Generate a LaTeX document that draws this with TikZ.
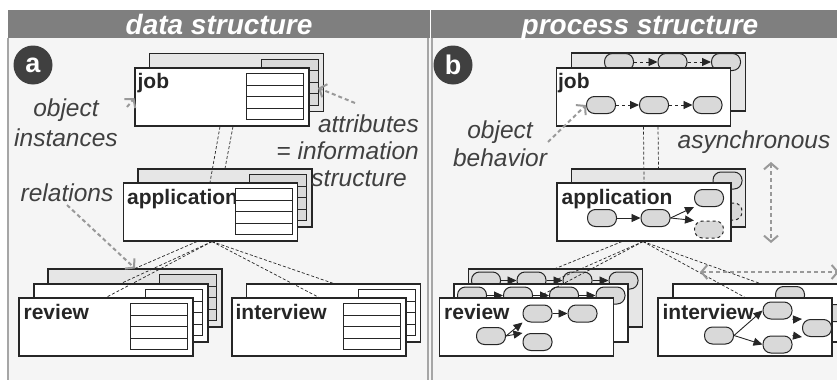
\documentclass[tikz,border=0pt]{standalone}
\usepackage{fontspec}
\setmainfont{Liberation Sans}
\usetikzlibrary{arrows.meta, positioning, calc}
\definecolor{HeadGray}{HTML}{7F7F7F}
\definecolor{PanelGray}{HTML}{F5F5F5}
\definecolor{EdgeGray}{HTML}{A6A6A6}
\definecolor{LayerGray}{HTML}{E6E6E6}
\definecolor{PillGray}{HTML}{D9D9D9}
\definecolor{NoteGray}{HTML}{999999}
\definecolor{Ink}{HTML}{262626}
\definecolor{NoteInk}{HTML}{404040}
\tikzset{
  header/.style={rectangle, fill=HeadGray, text=white, inner sep=0pt,
                 minimum height=28pt, text height=24pt, text depth=4pt,
                 font=\fontsize{28}{30}\selectfont\bfseries\itshape},
  panelmark/.style={circle, fill=NoteInk, text=white, inner sep=0pt,
                    minimum size=39pt, font=\fontsize{27}{27}\selectfont\bfseries},
  objbox/.style={rectangle, draw=Ink, line width=1.1pt, inner sep=0pt,
                 minimum width=174pt, minimum height=58pt},
  frontbox/.style={objbox, fill=white},
  backbox/.style={objbox, fill=LayerGray},
  boxlabel/.style={anchor=base west, inner sep=0pt, text=Ink,
                   font=\fontsize{21}{24}\selectfont\bfseries},
  pill/.style={rectangle, rounded corners=8pt, draw=Ink, line width=1pt,
               fill=PillGray, minimum width=29pt, minimum height=17pt, inner sep=0pt},
  optpill/.style={pill, dashed},
  flow/.style={draw=Ink, line width=0.9pt, -{Triangle[length=9pt,width=8pt]}},
  relation/.style={draw=Ink, line width=0.7pt, dash pattern=on 3pt off 2pt},
  note/.style={inner sep=0pt, text=NoteInk, align=center,
               font=\fontsize{24.5}{27}\selectfont\itshape},
  hint/.style={draw=NoteGray, line width=2pt, dash pattern=on 4pt off 3pt,
               -{Straight Barb[length=6pt,width=14pt]}},
  hintboth/.style={hint, {Straight Barb[length=6pt,width=14pt]}-{Straight Barb[length=6pt,width=14pt]}}
}
% attribute table in the upper right corner of a box
\newcommand{\attrtab}[2]{%
  \draw[fill=#2, draw=Ink, line width=0.9pt]
    ($(#1.north east)+(-63,6)$) rectangle ($(#1.north east)+(-6,52)$);
  \foreach \r in {1,2,3}
    \draw[Ink, line width=0.9pt] ($(#1.north east)+(-63,{6+11.5*\r})$) -- ++(57,0);
}

\begin{document}
\begin{tikzpicture}[x=1pt, y=-1pt]
    \useasboundingbox (0,0) rectangle (837,380);
    \clip (0,0) rectangle (837,380);

    % Panels
    \fill[PanelGray] (8,38) rectangle (849,380);
    \draw[EdgeGray, line width=1.2pt] (8,38) -- (8,380);
    \draw[EdgeGray, line width=1.2pt] (428,38) -- (428,380);
    \draw[EdgeGray, line width=1.2pt] (432,38) -- (432,380);
    \node[header, minimum width=422pt] (headData) at (219,24) {data structure};
    \node[header, minimum width=418pt] (headProc) at (640,24) {process structure};
    \node[panelmark] (markA) at (33,65) {a};
    \node[panelmark] (markB) at (453,65) {b};

    % ---- data structure ----
    \node[backbox] (djobB) at (236.5,82.5) {};
    \attrtab{djobB}{PillGray}
    \node[frontbox] (djobF) at (222,97) {};
    \node[boxlabel] (djobL) at ($(djobF.north west)+(3,21)$) {job};
    \attrtab{djobF}{white}

    \node[backbox] (dappB) at (225,198) {};
    \attrtab{dappB}{PillGray}
    \node[frontbox] (dappF) at (210.5,212) {};
    \node[boxlabel] (dappL) at ($(dappF.north west)+(4,22)$) {application};
    \attrtab{dappF}{white}

    \node[backbox] (drevB) at (135,298) {};
    \attrtab{drevB}{PillGray}
    \node[frontbox] (drevM) at (121,313) {};
    \attrtab{drevM}{white}
    \node[frontbox] (drevF) at (106,327) {};
    \node[boxlabel] (drevL) at ($(drevF.north west)+(5,22)$) {review};
    \attrtab{drevF}{white}

    \node[frontbox] (dintB) at (333.5,313) {};
    \attrtab{dintB}{white}
    \node[frontbox] (dintF) at (319,327) {};
    \node[boxlabel] (dintL) at ($(dintF.north west)+(4,22)$) {interview};
    \attrtab{dintF}{white}

    % Relations
    \draw[relation] ($(djobF.south)+(-2,0)$) -- ($(dappF.north)+(-0.5,0)$);
    \draw[relation] ($(djobF.south)+(11,0)$) -- (dappB.north);
    \draw[relation] ($(dappF.south)+(-13.5,0)$) -- (drevB.north);
    \foreach \t in {drevM, drevF, dintB, dintF}
        \draw[relation] ($(dappF.south)+(1.5,0)$) -- (\t.north);

    % Notes
    \node[note, font=\fontsize{24.5}{30}\selectfont\itshape] (instNote) at (66,123) {object\\instances};
    \node[note, align=right, anchor=east] (attrNote) at (419,151)
        {attributes\\= information\\structure\hspace*{12pt}};
    \node[note, anchor=base] (relNote) at (67,201) {relations};
    \coordinate (instTail) at (127,107);
    \coordinate (attrTail) at (355,103);
    \coordinate (relTail) at (67,205);
    \draw[hint] (instTail) -- ($(djobF.west)+(0,1)$);
    \draw[hint] (attrTail) -- ($(djobB.north east)+(-6,35)$);
    \draw[hint] (relTail) -- (drevB.north);

    % ---- process structure ----
    \node[backbox] (pjobB) at (658.5,82) {};
    \node[pill] (jb1) at (619,62) {};
    \node[pill] (jb2) at (672.5,62) {};
    \node[pill] (jb3) at (726,62) {};
    \draw[flow, dashed] (jb1) -- (jb2);
    \draw[flow, dashed] (jb2) -- (jb3);
    \node[frontbox] (pjobF) at (643.5,97) {};
    \node[boxlabel] (pjobL) at ($(pjobF.north west)+(2,21)$) {job};
    \node[pill] (jp1) at (601,105) {};
    \node[pill] (jp2) at (654,105) {};
    \node[pill] (jp3) at (707.5,105) {};
    \draw[flow, dashed] (jp1) -- (jp2);
    \draw[flow, dashed] (jp2) -- (jp3);

    \node[backbox] (pappB) at (658.5,198) {};
    \node[pill] (ab3) at (727.5,180.5) {};
    \node[optpill] (ab4) at (727.5,211.5) {};
    \node[frontbox] (pappF) at (644,212) {};
    \node[boxlabel] (pappL) at ($(pappF.north west)+(5,22)$) {application};
    \node[pill] (ap1) at (602,218) {};
    \node[pill] (ap2) at (655.5,218) {};
    \node[pill] (ap3) at (709,198) {};
    \node[optpill] (ap4) at (709,229.5) {};
    \draw[flow] (ap1) -- (ap2);
    \draw[flow] (ap2.east) -- (ap3.south west);
    \draw[flow] (ap2.east) -- (ap4.north west);

    \node[backbox] (prevB) at (555.5,298) {};
    \node[pill] (rb1) at (486,280.5) {};
    \node[pill] (rb2) at (531.5,280.5) {};
    \node[pill] (rb3) at (577.5,280.5) {};
    \node[pill] (rb4) at (623.5,280.5) {};
    \draw[flow] (rb1) -- (rb2);
    \draw[flow] (rb2) -- (rb3);
    \draw[flow] (rb3) -- (rb4);
    \node[frontbox] (prevM) at (541,313) {};
    \node[pill] (rm1) at (472,295.5) {};
    \node[pill] (rm2) at (518,295.5) {};
    \node[pill] (rm3) at (564,295.5) {};
    \node[pill] (rm4) at (610.5,295.5) {};
    \draw[flow] (rm1) -- (rm2);
    \draw[flow] (rm2) -- (rm3);
    \draw[flow] (rm3) -- (rm4);
    \node[frontbox] (prevF) at (526.5,327) {};
    \node[boxlabel] (prevL) at ($(prevF.north west)+(5,22)$) {review};
    \node[pill] (rp1) at (491,336) {};
    \node[pill] (rp2) at (537.5,313.5) {};
    \node[pill] (rp3) at (582.5,313.5) {};
    \node[pill] (rp4) at (537.5,342) {};
    \draw[flow] (rp1.east) -- (rp2.south west);
    \draw[flow] (rp1.east) -- (rp4.north west);
    \draw[flow] (rp2) -- (rp3);

    \node[frontbox] (pintB) at (760,313) {};
    \node[pill] (ib2) at (790,295) {};
    \node[pill] (ib4) at (831,313) {};
    \node[frontbox] (pintF) at (745,327) {};
    \node[boxlabel] (pintL) at ($(pintF.north west)+(5,22)$) {interview};
    \node[pill] (ip1) at (719,335.5) {};
    \node[pill] (ip2) at (777.5,310.5) {};
    \node[pill] (ip3) at (777.5,344.5) {};
    \node[pill] (ip4) at (817,328) {};
    \draw[flow] (ip1.east) -- (ip2.west);
    \draw[flow] (ip1.east) -- (ip3.west);
    \draw[flow] (ip2.south east) -- (ip4.north west);
    \draw[flow] (ip3.north east) -- (ip4.south west);

    % Relations
    \draw[relation] (pjobF.south) -- (pappF.north);
    \draw[relation] ($(pjobF.south)+(14.5,0)$) -- (pappB.north);
    \draw[relation] ($(pappF.south)+(-22,0)$) -- (prevB.north);
    \draw[relation] ($(pappF.south)+(-1,0)$) -- ($(rb2.east)!0.5!(rb3.west)$);
    \draw[relation] ($(pappF.south)+(-1,0)$) -- ($(rm2.east)!0.5!(rm3.west)$);
    \draw[relation] ($(pappF.south)+(-1,0)$) -- (pintB.north);
    \draw[relation] ($(pappF.south)+(-1,0)$) -- (pintF.north);

    % Notes
    \node[note, font=\fontsize{24.5}{28}\selectfont\itshape] (behNote) at (500,144) {object\\behavior};
    \node[note, anchor=base] (asyncNote) at (754,148) {asynchronous};
    \coordinate (behTail) at (548,142);
    \coordinate (asyncTop) at (771,162);
    \coordinate (asyncBot) at (771,243);
    \coordinate (parLeft) at (700,272);
    \coordinate (parRight) at (839,272);
    \draw[hint] (behTail) -- (jp1.west);
    \draw[hintboth] (asyncTop) -- (asyncBot);
    \draw[hintboth] (parLeft) -- (parRight);
\end{tikzpicture}
\end{document}
